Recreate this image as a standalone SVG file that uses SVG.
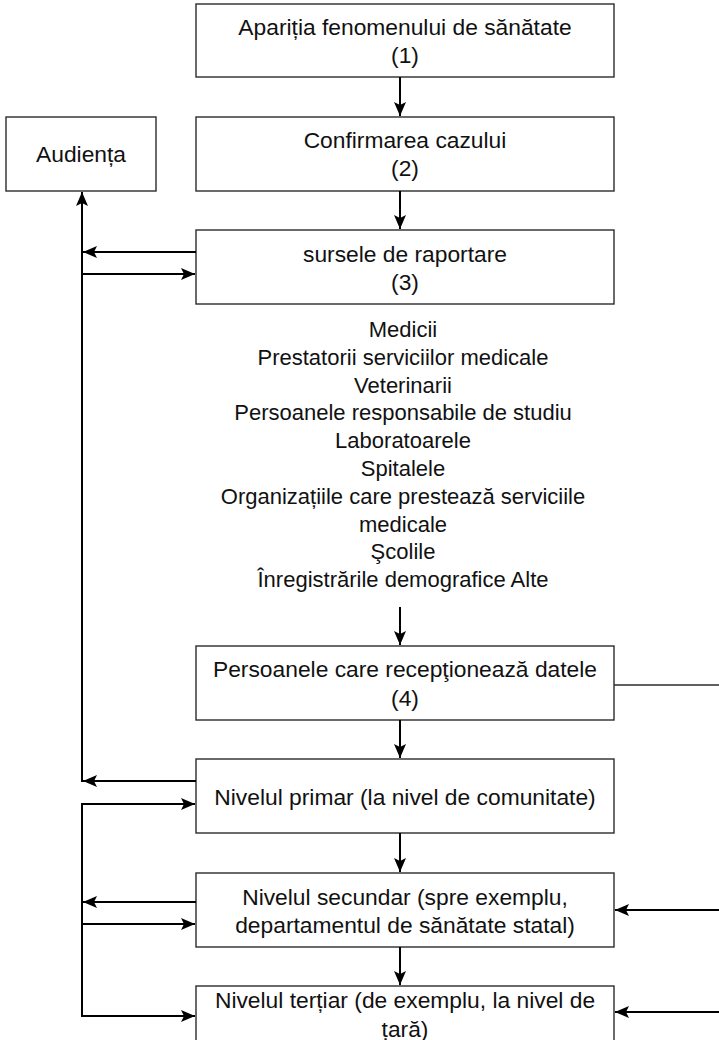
<svg xmlns="http://www.w3.org/2000/svg" width="719" height="1040" viewBox="0 0 719 1040">
  <style>
    .box { fill: #ffffff; stroke: #2b2b2b; stroke-width: 1.4; }
    .lbl { font-family: "Liberation Sans", Arial, sans-serif; font-size: 22px; fill: #111111; text-anchor: middle; }
    .blbl { font-size: 22.8px; }
    .wire { fill: none; stroke: #000000; stroke-width: 2; }
    .thin { fill: none; stroke: #2b2b2b; stroke-width: 1.4; }
  </style>
  <defs>
    <marker id="arrow" viewBox="0 0 14 12" refX="14" refY="6" markerWidth="14" markerHeight="12" markerUnits="userSpaceOnUse" orient="auto">
      <path d="M0,0 L14,6 L0,12 L3,6 Z" fill="#000000"/>
    </marker>
  </defs>

  <rect width="719" height="1040" fill="#ffffff"/>

  <!-- flow nodes -->
  <g id="n1">
    <rect class="box" x="196" y="4" width="418" height="73"/>
    <text class="lbl blbl" x="405" y="35">Apariția fenomenului de sănătate</text>
    <text class="lbl blbl" x="405" y="63">(1)</text>
  </g>
  <g id="n2">
    <rect class="box" x="196" y="117" width="418" height="74"/>
    <text class="lbl blbl" x="405" y="148">Confirmarea cazului</text>
    <text class="lbl blbl" x="405" y="176">(2)</text>
  </g>
  <g id="audienta">
    <rect class="box" x="6" y="117" width="150" height="74"/>
    <text class="lbl blbl" x="81" y="162">Audiența</text>
  </g>
  <g id="n3">
    <rect class="box" x="196" y="230" width="418" height="74"/>
    <text class="lbl blbl" x="405" y="262">sursele de raportare</text>
    <text class="lbl blbl" x="405" y="290">(3)</text>
  </g>
  <g id="sources">
    <text class="lbl" x="403" y="337">Medicii</text>
    <text class="lbl" x="403" y="364.8">Prestatorii serviciilor medicale</text>
    <text class="lbl" x="403" y="392.6">Veterinarii</text>
    <text class="lbl" x="403" y="420.4">Persoanele responsabile de studiu</text>
    <text class="lbl" x="403" y="448.2">Laboratoarele</text>
    <text class="lbl" x="403" y="476">Spitalele</text>
    <text class="lbl" x="403" y="503.8">Organizațiile care prestează serviciile</text>
    <text class="lbl" x="403" y="531.6">medicale</text>
    <text class="lbl" x="403" y="559.4">Şcolile</text>
    <text class="lbl" x="403" y="587">Înregistrările demografice Alte</text>
  </g>
  <g id="n4">
    <rect class="box" x="196" y="646" width="418" height="74"/>
    <text class="lbl blbl" x="405" y="677">Persoanele care recepţionează datele</text>
    <text class="lbl blbl" x="405" y="706">(4)</text>
  </g>
  <g id="n5">
    <rect class="box" x="196" y="759" width="418" height="74"/>
    <text class="lbl blbl" x="405" y="805">Nivelul primar (la nivel de comunitate)</text>
  </g>
  <g id="n6">
    <rect class="box" x="196" y="873" width="418" height="74"/>
    <text class="lbl blbl" x="405" y="905">Nivelul secundar (spre exemplu,</text>
    <text class="lbl blbl" x="405" y="933">departamentul de sănătate statal)</text>
  </g>
  <g id="n7">
    <rect class="box" x="196" y="986" width="418" height="80"/>
    <text class="lbl blbl" x="405" y="1008">Nivelul terțiar (de exemplu, la nivel de</text>
    <text class="lbl blbl" x="405" y="1037">țară)</text>
  </g>

  <!-- connectors -->
  <g id="connectors">
    <!-- main downward chain -->
    <line class="wire" x1="400" y1="77" x2="400" y2="116" marker-end="url(#arrow)"/>
    <line class="wire" x1="400" y1="191" x2="400" y2="229" marker-end="url(#arrow)"/>
    <line class="wire" x1="400" y1="607" x2="400" y2="645" marker-end="url(#arrow)"/>
    <line class="wire" x1="400" y1="720" x2="400" y2="758" marker-end="url(#arrow)"/>
    <line class="wire" x1="400" y1="833" x2="400" y2="872" marker-end="url(#arrow)"/>
    <line class="wire" x1="400" y1="947" x2="400" y2="985" marker-end="url(#arrow)"/>

    <!-- feedback trunk up to the audience -->
    <line class="wire" x1="82" y1="782" x2="82" y2="192" marker-end="url(#arrow)"/>
    <line class="wire" x1="196" y1="252" x2="83" y2="252" marker-end="url(#arrow)"/>
    <line class="wire" x1="82" y1="274" x2="195" y2="274" marker-end="url(#arrow)"/>
    <line class="wire" x1="196" y1="781" x2="83" y2="781" marker-end="url(#arrow)"/>

    <!-- lower distribution trunk -->
    <polyline class="wire" points="195,804 82,804 82,1016 195,1016" marker-end="url(#arrow)"/>
    <line class="wire" x1="82" y1="804" x2="195" y2="804" marker-end="url(#arrow)"/>
    <line class="wire" x1="196" y1="902" x2="83" y2="902" marker-end="url(#arrow)"/>
    <line class="wire" x1="82" y1="924" x2="195" y2="924" marker-end="url(#arrow)"/>

    <!-- right-hand return path -->
    <line class="thin" x1="614" y1="685" x2="719" y2="685"/>
    <line class="wire" x1="719" y1="910" x2="615" y2="910" marker-end="url(#arrow)"/>
    <line class="wire" x1="719" y1="1012" x2="615" y2="1012" marker-end="url(#arrow)"/>
  </g>
</svg>
